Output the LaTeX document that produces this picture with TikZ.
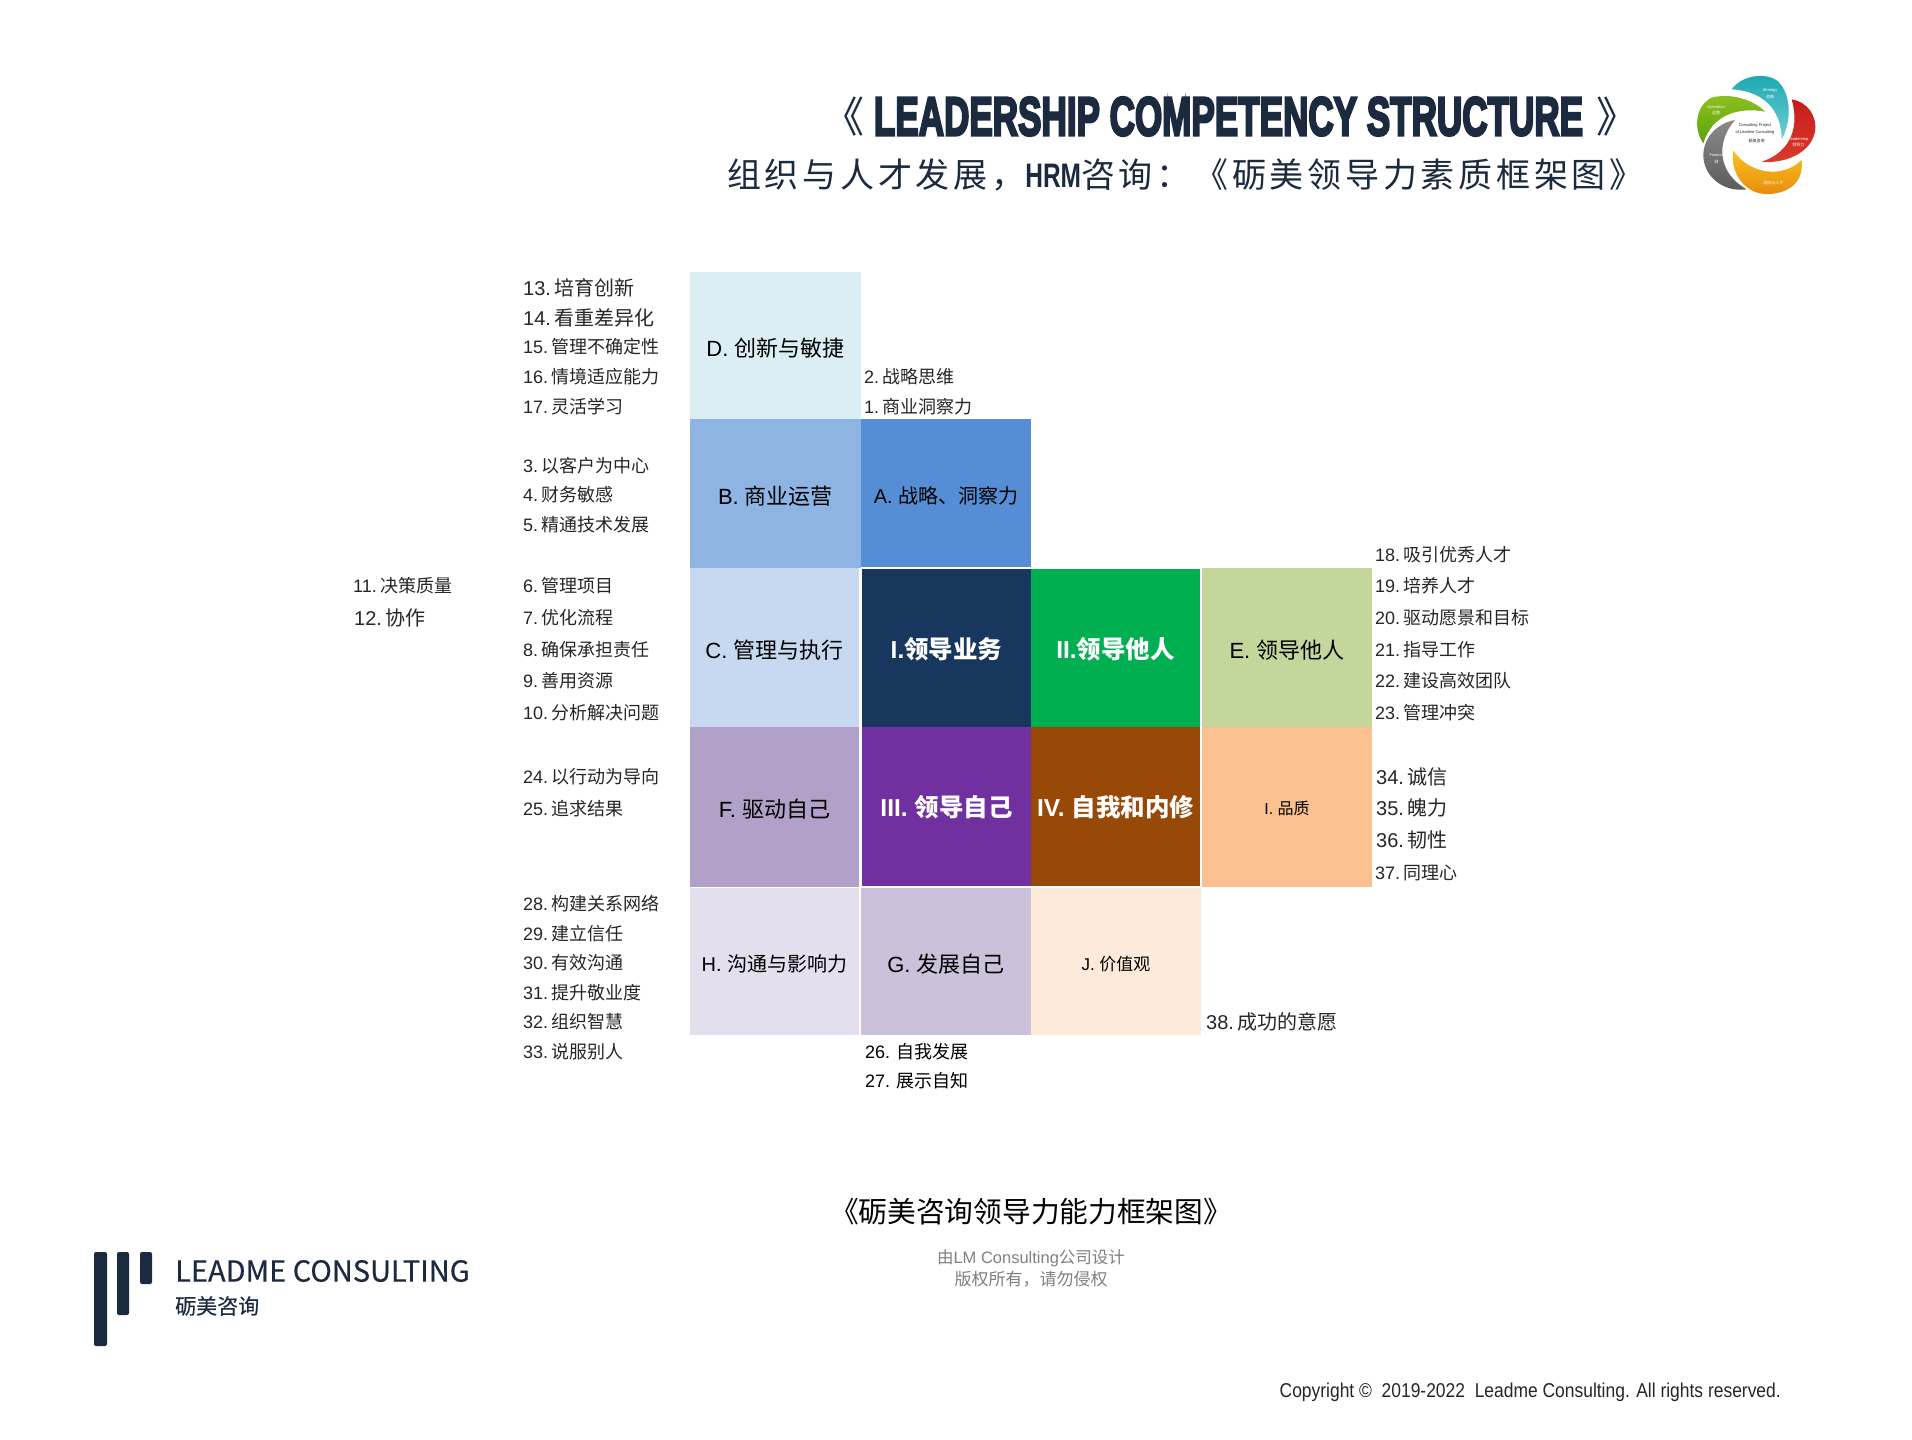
\documentclass[tikz,border=0pt]{standalone}
\usepackage{graphicx}
\usepackage{fontspec}
\setmainfont{Liberation Sans}
\newfontfamily\cjk{Noto Sans CJK SC}
\newfontfamily\cjkwide[LetterSpace=11]{Noto Sans CJK SC}
\newfontfamily\cjkmid[FakeBold=.5]{Noto Sans CJK SC}
\newfontfamily\heavy[FakeBold=5]{Liberation Sans}
\newcommand{\fsz}[1]{\fontsize{#1}{#1}\selectfont}
\newcommand{\tightsp}{\spaceskip 2pt\relax}
\definecolor{ink}{HTML}{262626}
\definecolor{navy}{HTML}{1B2A3F}
\definecolor{colA}{HTML}{558ED5}
\definecolor{colB}{HTML}{8EB4E3}
\definecolor{colC}{HTML}{C6D9F1}
\definecolor{colD}{HTML}{DAEEF3}
\definecolor{colE}{HTML}{C3D69B}
\definecolor{colF}{HTML}{B1A0C7}
\definecolor{colG}{HTML}{CCC1DA}
\definecolor{colH}{HTML}{E4DFEC}
\definecolor{colI}{HTML}{FAC090}
\definecolor{colJ}{HTML}{FDEADA}
\definecolor{colLa}{HTML}{17375E}
\definecolor{colLb}{HTML}{00B050}
\definecolor{colLc}{HTML}{7030A0}
\definecolor{colLd}{HTML}{984807}
\definecolor{tealtop}{HTML}{19A6AF}
\definecolor{tealbot}{HTML}{6FCFD6}
\definecolor{redtop}{HTML}{C71C1C}
\definecolor{redbot}{HTML}{DB3B2B}
\definecolor{orgtop}{HTML}{F7C321}
\definecolor{orgbot}{HTML}{E88A0C}
\definecolor{greytop}{HTML}{8A8A8A}
\definecolor{greybot}{HTML}{5A5A5A}
\definecolor{grntop}{HTML}{8DC21F}
\definecolor{grnbot}{HTML}{5FA10A}
\begin{document}
\begin{tikzpicture}[
			x=1pt,y=-1pt,
			cell/.style={anchor=north west,inner sep=0,outer sep=0,text=black,font=\fsz{22},text height=21pt,text depth=0pt},
			cellw/.style={cell,text=white,font=\fsz{24.5}\bfseries,text height=20.6pt},
			item/.style={anchor=west,inner sep=0,text=ink,font=\fsz{18},text depth=0pt,execute at begin node=\tightsp},
			itemb/.style={item,font=\fsz{20}},
			itemk/.style={anchor=west,inner sep=0,text=black,font=\fsz{18},text depth=0pt},
			bar/.style={fill=navy,rounded corners=2pt},
			petalname/.style={font=\fsz{4},white,inner sep=0},
			petalcn/.style={font=\fsz{4}\cjk,white,inner sep=0}
		]
		\useasboundingbox (0,0) rectangle (1912,1440);
		\fill[white] (0,0) rectangle (1912,1440);

		\node[inner sep=0,text=navy] (title) at (1228.5,116.5) {\resizebox{709pt}{38pt}{\heavy\bfseries LEADERSHIP COMPETENCY STRUCTURE}};
		\node[inner sep=0,text=navy,font=\fsz{42}\cjk,anchor=east,xshift=-9pt] (titlel) at (title.west) {《};
		\node[inner sep=0,text=navy,font=\fsz{42}\cjk,anchor=west,xshift=13pt] (titler) at (title.east) {》};
		\node[inner sep=0,text=navy,font=\fsz{34}\cjkwide,anchor=west] (subtitle) at (727,175) {组织与人才发展，{\fontspec{Liberation Sans}\bfseries\scalebox{.72}[1]{HRM}}咨询：《砺美领导力素质框架图》};

		\begin{scope}[shift={(1670,60)},x=.3333pt,y=-.3333pt]
			\shade[top color=tealtop,bottom color=tealbot] (185,88) .. controls (215,45) and (290,35) .. (325,65) .. controls (368,110) and (362,190) .. (335,238) .. controls (335,170) and (300,95) .. (185,88) -- cycle;
			\shade[top color=redtop,bottom color=redbot] (365,118) .. controls (410,125) and (442,165) .. (435,215) .. controls (422,282) and (340,312) .. (275,305) .. controls (340,285) and (395,225) .. (365,118) -- cycle;
			\shade[top color=orgtop,bottom color=orgbot] (190,272) .. controls (240,345) and (340,355) .. (395,300) .. controls (402,362) and (362,398) .. (300,402) .. controls (228,408) and (178,340) .. (190,272) -- cycle;
			\shade[top color=greytop,bottom color=greybot] (195,180) .. controls (135,250) and (145,340) .. (230,388) .. controls (160,398) and (103,350) .. (100,290) .. controls (98,235) and (140,190) .. (195,180) -- cycle;
			\shade[top color=grntop,bottom color=grnbot] (285,155) .. controls (205,140) and (125,165) .. (100,250) .. controls (68,205) and (78,135) .. (125,113) .. controls (180,98) and (250,118) .. (285,155) -- cycle;
			\node[petalname] (strategy) at (300,92) {Strategy};
			\node[petalcn] (strategycn) at (300,112) {战略};
			\node[petalname] (operation) at (138,141) {Operation};
			\node[petalcn] (operationcn) at (138,160) {运营};
			\node[petalname] (leadership) at (385,237) {Leadership};
			\node[petalcn] (leadershipcn) at (385,256) {领导力};
			\node[petalname] (finance) at (140,285) {Finance};
			\node[petalcn] (financecn) at (140,307) {财};
			\node[petalcn] (corpcn) at (310,370) {组织与人才};
			\node[font=\fsz{4},ink,inner sep=0] (centre) at (255,206) {\shortstack{Consulting Project\\of Leadme Consulting}};
			\node[font=\fsz{4}\cjk,ink,inner sep=0] (centrecn) at (260,243) {砺美咨询};
		\end{scope}

		\node[cell,fill=colD,minimum width=171pt,minimum height=147pt] (d) at (690,272) {D. {\cjk 创新与敏捷}};
		\node[cell,fill=colB,minimum width=171pt,minimum height=149pt] (b) at (690,419) {B. {\cjk 商业运营}};
		\node[cell,fill=colA,minimum width=170pt,minimum height=148pt,font=\fsz{20},text height=20pt] (a) at (861,419) {A. {\cjk 战略、洞察力}};
		\node[cell,fill=colC,minimum width=169pt,minimum height=159pt] (c) at (690,568) {C. {\cjk 管理与执行}};
		\node[cellw,fill=colLa,minimum width=169pt,minimum height=158pt] (lead1) at (862,569) {I.{\cjk\bfseries 领导业务}};
		\node[cellw,fill=colLb,minimum width=169pt,minimum height=158pt] (lead2) at (1031,569) {II.{\cjk\bfseries 领导他人}};
		\node[cell,fill=colE,minimum width=170pt,minimum height=159pt] (e) at (1202,568) {E. {\cjk 领导他人}};
		\node[cell,fill=colF,minimum width=169pt,minimum height=160pt] (f) at (690,727) {F. {\cjk 驱动自己}};
		\node[cellw,fill=colLc,minimum width=169pt,minimum height=159pt] (lead3) at (862,727) {III. {\cjk\bfseries 领导自己}};
		\node[cellw,fill=colLd,minimum width=169pt,minimum height=159pt] (lead4) at (1031,727) {IV. {\cjk\bfseries 自我和内修}};
		\node[cell,fill=colI,minimum width=170pt,minimum height=160pt,font=\fsz{16},text height=14.2pt] (i) at (1202,727) {I. {\cjk 品质}};
		\node[cell,fill=colH,minimum width=169pt,minimum height=147.5pt,font=\fsz{20},text height=20pt] (h) at (690,887.5) {H. {\cjk 沟通与影响力}};
		\node[cell,fill=colG,minimum width=170pt,minimum height=147pt] (g) at (861,888) {G. {\cjk 发展自己}};
		\node[cell,fill=colJ,minimum width=170pt,minimum height=147pt,font=\fsz{17},text height=18pt] (j) at (1031,888) {J. {\cjk 价值观}};

		\node[itemb] (n13) at (523,287) {13. {\cjk 培育创新}};
		\node[itemb] (n14) at (523,317) {14. {\cjk 看重差异化}};
		\node[item] (n15) at (523,346) {15. {\cjk 管理不确定性}};
		\node[item] (n16) at (523,376) {16. {\cjk 情境适应能力}};
		\node[item] (n17) at (523,406) {17. {\cjk 灵活学习}};
		\node[item] (n3) at (523,465) {3. {\cjk 以客户为中心}};
		\node[item] (n4) at (523,494) {4. {\cjk 财务敏感}};
		\node[item] (n5) at (523,524) {5. {\cjk 精通技术发展}};
		\node[item] (n6) at (523,585) {6. {\cjk 管理项目}};
		\node[item] (n7) at (523,617) {7. {\cjk 优化流程}};
		\node[item] (n8) at (523,649) {8. {\cjk 确保承担责任}};
		\node[item] (n9) at (523,680) {9. {\cjk 善用资源}};
		\node[item] (n10) at (523,712) {10. {\cjk 分析解决问题}};
		\node[item] (n24) at (523,776) {24. {\cjk 以行动为导向}};
		\node[item] (n25) at (523,808) {25. {\cjk 追求结果}};
		\node[item] (n28) at (523,903) {28. {\cjk 构建关系网络}};
		\node[item] (n29) at (523,933) {29. {\cjk 建立信任}};
		\node[item] (n30) at (523,962) {30. {\cjk 有效沟通}};
		\node[item] (n31) at (523,992) {31. {\cjk 提升敬业度}};
		\node[item] (n32) at (523,1021) {32. {\cjk 组织智慧}};
		\node[item] (n33) at (523,1051) {33. {\cjk 说服别人}};
		\node[item] (n11) at (353,585) {11. {\cjk 决策质量}};
		\node[itemb] (n12) at (354,617) {12. {\cjk 协作}};
		\node[item] (n2) at (864,376) {2. {\cjk 战略思维}};
		\node[item] (n1) at (864,406) {1. {\cjk 商业洞察力}};
		\node[item] (n18) at (1375,554) {18. {\cjk 吸引优秀人才}};
		\node[item] (n19) at (1375,585) {19. {\cjk 培养人才}};
		\node[item] (n20) at (1375,617) {20. {\cjk 驱动愿景和目标}};
		\node[item] (n21) at (1375,649) {21. {\cjk 指导工作}};
		\node[item] (n22) at (1375,680) {22. {\cjk 建设高效团队}};
		\node[item] (n23) at (1375,712) {23. {\cjk 管理冲突}};
		\node[itemb] (n34) at (1376,776) {34. {\cjk 诚信}};
		\node[itemb] (n35) at (1376,807) {35. {\cjk 魄力}};
		\node[itemb] (n36) at (1376,839) {36. {\cjk 韧性}};
		\node[item] (n37) at (1375,872) {37. {\cjk 同理心}};
		\node[itemb] (n38) at (1206,1021) {38. {\cjk 成功的意愿}};
		\node[itemk] (n26) at (865,1051) {26. {\cjk 自我发展}};
		\node[itemk] (n27) at (865,1080) {27. {\cjk 展示自知}};

		\node[inner sep=0,text=black,font=\fsz{28.7}\cjk] (caption) at (1031,1212) {《砺美咨询领导力能力框架图》};
		\node[inner sep=0,text=gray,font=\fsz{16.5}] (design) at (1031,1258) {{\cjk 由}LM Consulting{\cjk 公司设计}};
		\node[inner sep=0,text=gray,font=\fsz{17}\cjk] (rights) at (1031,1279) {版权所有，请勿侵权};

		\fill[bar] (94,1252) rectangle (107,1346);
		\fill[bar] (117,1252) rectangle (129,1315);
		\fill[bar] (140,1252) rectangle (152,1284);
		\node[inner sep=0,anchor=west,text=navy,font=\fsz{29}\cjkmid] (brand) at (175,1271) {LEADME CONSULTING};
		\node[inner sep=0,anchor=west,text=navy,font=\fsz{21}\cjkmid] (brandcn) at (175,1306) {砺美咨询};

		\node[inner sep=0,anchor=east,text=ink,font=\fsz{20}] (copyright) at (1781,1392) {\scalebox{.872}[1]{Copyright ©~ 2019-2022~ Leadme Consulting. All rights reserved.}};
	\end{tikzpicture}
\end{document}
